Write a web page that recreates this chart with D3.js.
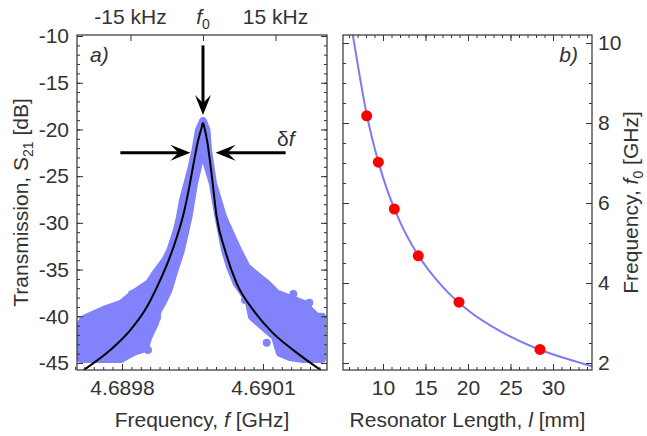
<!DOCTYPE html>
<html>
<head>
<meta charset="utf-8">
<script src="https://cdnjs.cloudflare.com/ajax/libs/d3/7.8.5/d3.min.js"></script>
<style>
body { margin: 0; background: #fff; }
text { font-family: 'Liberation Sans', Arial, sans-serif; fill: #333; }
</style>
</head>
<body>
<svg id="chart" width="647" height="436"></svg>
<script>
// panel a) - outline of the measured point cloud (GHz, dB), read off the plot
var cloudFreq = [4.6899723, 4.6899638, 4.6899564, 4.6899468, 4.6899394, 4.6899298, 4.6899234, 4.6899170,
	4.6899032, 4.6898926, 4.6898713, 4.6898574, 4.6898255, 4.6898000, 4.6897606, 4.6897213, 4.6897128,
	4.6897128, 4.6897979, 4.6898245, 4.6898489, 4.6898564, 4.6898702, 4.6898766, 4.6898851, 4.6898989,
	4.6899096, 4.6899255, 4.6899415, 4.6899532, 4.6899649,
	4.6899787, 4.6899932, 4.6900053, 4.6900192, 4.6900298, 4.6900443, 4.6900692, 4.6900766, 4.6901011,
	4.6901255, 4.6901362, 4.6901575, 4.6901851, 4.6902255, 4.6902255,
	4.6902138, 4.6902064, 4.6901851, 4.6901287, 4.6901075, 4.6900894, 4.6900649, 4.6900468, 4.6900400,
	4.6900149, 4.6899936, 4.6899830, 4.6899798];
var cloudDb = [-19.10, -20.06, -22.21, -24.35, -25.77, -27.56, -29.35, -30.77,
	-32.91, -33.98, -35.41, -36.48, -37.55, -38.62, -39.34, -40.23, -40.76,
	-44.58, -44.58, -43.83, -43.41, -42.20, -40.76, -39.34, -38.62, -37.20,
	-35.41, -32.91, -29.35, -25.77, -23.28,
	-23.28, -25.77, -29.35, -32.91, -34.70, -36.48, -38.27, -40.05, -41.13,
	-42.20, -43.94, -44.37, -44.58, -44.58, -40.05,
	-40.05, -39.69, -38.62, -37.55, -36.48, -35.77, -34.70, -32.91, -32.20,
	-29.35, -25.77, -22.21, -20.06];
// stray points along the edges of the cloud
var strayFreq = [4.6901645, 4.6901985, 4.6901079, 4.6900617, 4.6898553, 4.6897176, 4.6897580,
	4.6898213, 4.6898745, 4.6900404, 4.6900617];
var strayDb = [-37.62, -38.56, -42.84, -38.27, -43.62, -40.37, -40.16,
	-37.62, -40.16, -32.24, -34.70];
// black fit curve
var fitFreq = [4.6897185, 4.6897751, 4.6898177, 4.6898532, 4.6898781, 4.6898994, 4.6899170, 4.6899313,
	4.6899419, 4.6899511, 4.6899623, 4.6899692, 4.6899723, 4.6899755, 4.6899809, 4.6899909, 4.6900015,
	4.6900192, 4.6900440, 4.6900794, 4.6901219, 4.6901645, 4.6902228];
var fitDb = [-45.76, -43.62, -41.48, -38.98, -36.48, -33.98, -31.49, -28.98,
	-26.49, -23.99, -21.14, -19.85, -19.32, -19.85, -21.14, -24.88, -29.35,
	-32.91, -36.48, -39.34, -41.83, -43.62, -45.76];

// panel b) - resonators
var resLength = [8.08, 9.45, 11.33, 14.15, 18.94, 28.47];
var resFreq = [8.18, 7.02, 5.85, 4.68, 3.52, 2.34];
var curveLength = [6.45, 7, 8, 9, 10, 12, 14, 17, 20, 24, 28, 32, 34.6];
var curveFreq = [10.2, 9.5, 8.3, 7.38, 6.64, 5.53, 4.74, 3.91, 3.32, 2.77, 2.37, 2.08, 1.92];

// ticks
var dbTicks = [-45, -40, -35, -30, -25, -20, -15, -10];
var freqTicks = [4.6898, 4.6901];
var topTicks = [-15, 0, 15];
var topLabels = ['-15 kHz', 'f0', '15 kHz'];
var lengthTicks = [10, 15, 20, 25, 30];
var f0Ticks = [2, 4, 6, 8, 10];

var svg = d3.select('#chart');
var pa = {left: 77, right: 327, top: 35, bottom: 370};
var pb = {left: 343, right: 592, top: 35, bottom: 370};
var ink = '#333';
var dotColor = '#8282fa';

var x = d3.scaleLinear().domain([4.6897043, 4.6902362]).range([pa.left, pa.right]);
var xTop = d3.scaleLinear().domain([-26.07, 25.66]).range([pa.left, pa.right]);
var y = d3.scaleLinear().domain([-45.75, -9.89]).range([pa.bottom, pa.top]);
var x2 = d3.scaleLinear().domain([5.294, 34.588]).range([pb.left, pb.right]);
var y2 = d3.scaleLinear().domain([1.825, 10.2]).range([pb.bottom, pb.top]);

var defs = svg.append('defs');
defs.append('clipPath').attr('id', 'clipA').append('rect')
	.attr('x', pa.left).attr('y', pa.top).attr('width', pa.right - pa.left).attr('height', pa.bottom - pa.top);
defs.append('clipPath').attr('id', 'clipB').append('rect')
	.attr('x', pb.left).attr('y', pb.top).attr('width', pb.right - pb.left).attr('height', pb.bottom - pb.top);

// ---- panel a data
var ga = svg.append('g').attr('clip-path', 'url(#clipA)');
var cloudLine = d3.line()
	.x(function(i) { return x(cloudFreq[i]); })
	.y(function(i) { return y(cloudDb[i]); })
	.curve(d3.curveLinearClosed);
ga.append('path')
	.attr('d', cloudLine(d3.range(cloudFreq.length)))
	.attr('fill', dotColor)
	.attr('stroke', dotColor)
	.attr('stroke-width', 8)
	.attr('stroke-linejoin', 'round');
ga.selectAll('circle.stray')
	.data(d3.range(strayFreq.length))
	.enter().append('circle')
	.attr('class', 'stray')
	.attr('cx', function(i) { return x(strayFreq[i]); })
	.attr('cy', function(i) { return y(strayDb[i]); })
	.attr('r', 4)
	.attr('fill', dotColor);
var fitLine = d3.line()
	.x(function(i) { return x(fitFreq[i]); })
	.y(function(i) { return y(fitDb[i]); })
	.curve(d3.curveMonotoneX);
ga.append('path')
	.attr('d', fitLine(d3.range(fitFreq.length)))
	.attr('fill', 'none')
	.attr('stroke', '#000')
	.attr('stroke-width', 2);

// ---- panel b data
var gb = svg.append('g').attr('clip-path', 'url(#clipB)');
var lenLine = d3.line()
	.x(function(i) { return x2(curveLength[i]); })
	.y(function(i) { return y2(curveFreq[i]); })
	.curve(d3.curveMonotoneX);
gb.append('path')
	.attr('d', lenLine(d3.range(curveLength.length)))
	.attr('fill', 'none')
	.attr('stroke', '#7b7bf5')
	.attr('stroke-width', 2);
gb.selectAll('circle')
	.data(d3.range(resLength.length))
	.enter().append('circle')
	.attr('cx', function(i) { return x2(resLength[i]); })
	.attr('cy', function(i) { return y2(resFreq[i]); })
	.attr('r', 5.5)
	.attr('fill', '#ff0000');

// ---- axes (inward ticks on every side)
function plain(d) { return String(d); }

function addAxis(gen, scale, major, minor, transform, fmt, pad) {
	if (minor) {
		svg.append('g').attr('transform', transform).attr('color', ink)
			.call(gen(scale).tickValues(minor).tickSize(-3).tickFormat(''))
			.select('.domain').remove();
	}
	var g = svg.append('g').attr('transform', transform).attr('color', ink)
		.call(gen(scale).tickValues(major).tickSize(-6).tickPadding(pad || 0).tickFormat(fmt || ''));
	g.select('.domain').remove();
	g.selectAll('text')
		.attr('font-size', '21px')
		.attr('font-family', "'Liberation Sans', Arial, sans-serif")
		.attr('fill', ink);
	return g;
}

var dbMinor = d3.range(-45, -9.5, 1);
var freqMinor = d3.range(0, 27).map(function(k) { return 4.6897 + k * 0.00002; });
var lenMinor = d3.range(6, 35, 1);
var f0Minor = d3.range(2, 10.1, 0.5);

addAxis(d3.axisLeft, y, dbTicks, dbMinor, 'translate(' + pa.left + ',0)', plain, 8);
addAxis(d3.axisRight, y, dbTicks, dbMinor, 'translate(' + pa.right + ',0)');
addAxis(d3.axisBottom, x, freqTicks, freqMinor, 'translate(0,' + pa.bottom + ')', function(d) { return d.toFixed(4); }, 10);
addAxis(d3.axisTop, xTop, topTicks, null, 'translate(0,' + pa.top + ')');

addAxis(d3.axisLeft, y2, f0Ticks, f0Minor, 'translate(' + pb.left + ',0)');
addAxis(d3.axisRight, y2, f0Ticks, f0Minor, 'translate(' + pb.right + ',0)', plain, 6);
addAxis(d3.axisBottom, x2, lengthTicks, lenMinor, 'translate(0,' + pb.bottom + ')', plain, 10);
addAxis(d3.axisTop, x2, lengthTicks, lenMinor, 'translate(0,' + pb.top + ')');

// frames
[pa, pb].forEach(function(p) {
	svg.append('rect')
		.attr('x', p.left).attr('y', p.top)
		.attr('width', p.right - p.left).attr('height', p.bottom - p.top)
		.attr('fill', 'none').attr('stroke', ink).attr('stroke-width', 1.2);
});

// top labels of panel a
topTicks.forEach(function(v, i) {
	var t = svg.append('text')
		.attr('x', xTop(v)).attr('y', pa.top - 11)
		.attr('text-anchor', 'middle')
		.attr('font-size', '21px');
	if (topLabels[i] === 'f0') {
		t.append('tspan').attr('font-style', 'italic').text('f');
		t.append('tspan').attr('font-size', '14px').attr('dy', 5).text('0');
	} else {
		t.text(topLabels[i]);
	}
});

// axis titles
svg.append('text')
	.attr('x', (pa.left + pa.right) / 2).attr('y', 427)
	.attr('text-anchor', 'middle').attr('font-size', '21px')
	.call(function(t) {
		t.append('tspan').text('Frequency, ');
		t.append('tspan').attr('font-style', 'italic').text('f');
		t.append('tspan').text(' [GHz]');
	});
svg.append('text')
	.attr('x', (pb.left + pb.right) / 2).attr('y', 427)
	.attr('text-anchor', 'middle').attr('font-size', '21px')
	.call(function(t) {
		t.append('tspan').text('Resonator Length, ');
		t.append('tspan').attr('font-style', 'italic').text('l');
		t.append('tspan').text(' [mm]');
	});
svg.append('text')
	.attr('transform', 'translate(28,' + (pa.top + pa.bottom) / 2 + ') rotate(-90)')
	.attr('text-anchor', 'middle').attr('font-size', '21px')
	.call(function(t) {
		t.append('tspan').text('Transmission, S');
		t.append('tspan').attr('font-size', '14px').attr('dy', 5).text('21');
		t.append('tspan').attr('dy', -5).text(' [dB]');
	});
svg.append('text')
	.attr('transform', 'translate(638,' + (pb.top + pb.bottom) / 2 + ') rotate(-90)')
	.attr('text-anchor', 'middle').attr('font-size', '21px')
	.call(function(t) {
		t.append('tspan').text('Frequency, ');
		t.append('tspan').attr('font-style', 'italic').text('f');
		t.append('tspan').attr('font-size', '14px').attr('dy', 5).text('0');
		t.append('tspan').attr('dy', -5).text(' [GHz]');
	});

// panel tags
svg.append('text').attr('x', pa.left + 13).attr('y', pa.top + 27)
	.attr('font-size', '21px').attr('font-style', 'italic').text('a)');
svg.append('text').attr('x', pb.right - 14).attr('y', pb.top + 27)
	.attr('text-anchor', 'end')
	.attr('font-size', '21px').attr('font-style', 'italic').text('b)');

// arrows marking f0 and the linewidth
function arrow(x1, y1, x2, y2) {
	var a = Math.atan2(y2 - y1, x2 - x1), L = 20, W = 8, n = 12;
	var c = Math.cos(a), s = Math.sin(a);
	function pt(u, v) { return [x2 - u * c - v * s, y2 - u * s + v * c]; }
	svg.append('line')
		.attr('x1', x1).attr('y1', y1)
		.attr('x2', pt(n, 0)[0]).attr('y2', pt(n, 0)[1])
		.attr('stroke', '#000').attr('stroke-width', 3);
	svg.append('path')
		.attr('d', 'M' + [x2, y2] + 'L' + pt(L, W) + 'L' + pt(n, 0) + 'L' + pt(L, -W) + 'Z')
		.attr('fill', '#000');
}
arrow(xTop(0), y(-11), xTop(0), y(-18.46));
arrow(xTop(-17.1), y(-22.5), xTop(-2.6), y(-22.5));
arrow(xTop(17.1), y(-22.5), xTop(2.6), y(-22.5));

svg.append('text')
	.attr('x', xTop(15.3)).attr('y', y(-21.77))
	.attr('font-size', '21px')
	.call(function(t) {
		t.append('tspan').text('δ');
		t.append('tspan').attr('font-style', 'italic').text('f');
	});
</script>
</body>
</html>
